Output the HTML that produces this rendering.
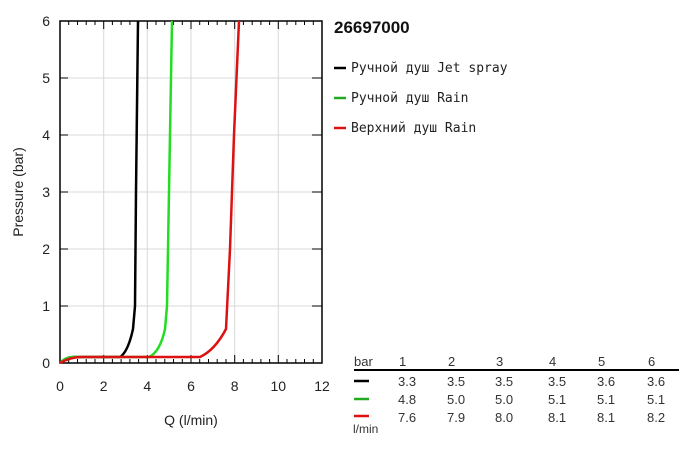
<!DOCTYPE html>
<html><head><meta charset="utf-8"><style>
body{margin:0;background:#fff;width:696px;height:450px;overflow:hidden;font-family:"Liberation Sans",sans-serif}
</style></head><body>
<svg width="696" height="450" xmlns="http://www.w3.org/2000/svg" font-family="Liberation Sans, sans-serif">
<g stroke="#d8d8d8" stroke-width="1">
<line x1="103.7" y1="21" x2="103.7" y2="363"/><line x1="147.3" y1="21" x2="147.3" y2="363"/><line x1="191" y1="21" x2="191" y2="363"/><line x1="234.7" y1="21" x2="234.7" y2="363"/><line x1="278.3" y1="21" x2="278.3" y2="363"/>
<line x1="60" y1="78" x2="322" y2="78"/><line x1="60" y1="135" x2="322" y2="135"/><line x1="60" y1="192" x2="322" y2="192"/><line x1="60" y1="249" x2="322" y2="249"/><line x1="60" y1="306" x2="322" y2="306"/>
</g>
<g stroke="#000" stroke-width="1">
<path d="M68.7 21v4M77.5 21v4M86.2 21v4M95 21v4M112.4 21v4M121.1 21v4M129.9 21v4M138.6 21v4M156 21v4M164.8 21v4M173.5 21v4M182.3 21v4M199.7 21v4M208.5 21v4M217.2 21v4M226 21v4M243.4 21v4M252.2 21v4M260.9 21v4M269.6 21v4M287 21v4M295.8 21v4M304.5 21v4M313.3 21v4"/>
<path d="M68.7 363v-4M77.5 363v-4M86.2 363v-4M95 363v-4M112.4 363v-4M121.1 363v-4M129.9 363v-4M138.6 363v-4M156 363v-4M164.8 363v-4M173.5 363v-4M182.3 363v-4M199.7 363v-4M208.5 363v-4M217.2 363v-4M226 363v-4M243.4 363v-4M252.2 363v-4M260.9 363v-4M269.6 363v-4M287 363v-4M295.8 363v-4M304.5 363v-4M313.3 363v-4"/>
<path d="M103.7 21v8M147.3 21v8M191 21v8M234.7 21v8M278.3 21v8M103.7 363v-8M147.3 363v-8M191 363v-8M234.7 363v-8M278.3 363v-8"/>
<path d="M60 78h8M60 135h8M60 192h8M60 249h8M60 306h8M322 78h-10M322 135h-10M322 192h-10M322 249h-10M322 306h-10"/>
</g>
<rect x="60" y="21" width="262" height="342" fill="none" stroke="#000" stroke-width="1.5"/>
<g fill="none" stroke-width="2.5" stroke-linejoin="round">
<path stroke="#000" d="M60 363 Q66 357 73 357 L120 357 Q128 352 133 329 L135 306 L136 192 L138 21"/>
<path stroke="#22dd22" d="M60 363 Q66 357 73 357 L149 357 Q160 352 165 329 L167 306 L169 192 L172 21"/>
<path stroke="#dd1111" d="M60 363 Q70 357 82 357 L200 357 Q215 350 226 329 L230 249 L234 135 L239 21"/>
</g>
<g font-size="14" fill="#222" text-anchor="end">
<text x="50" y="26">6</text><text x="50" y="83">5</text><text x="50" y="140">4</text><text x="50" y="197">3</text><text x="50" y="254">2</text><text x="50" y="311">1</text><text x="50" y="368">0</text>
</g>
<g font-size="14" fill="#222" text-anchor="middle">
<text x="60" y="391">0</text><text x="103.7" y="391">2</text><text x="147.3" y="391">4</text><text x="191" y="391">6</text><text x="234.7" y="391">8</text><text x="278.3" y="391">10</text><text x="322" y="391">12</text>
<text x="191" y="425">Q (l/min)</text>
<text transform="translate(23 192) rotate(-90)">Pressure (bar)</text>
</g>
<text x="334" y="33" font-size="17" font-weight="bold" fill="#111">26697000</text>
<g font-family="DejaVu Sans Mono, monospace" font-size="13" fill="#222">
<line x1="334" y1="68" x2="346" y2="68" stroke="#000" stroke-width="2.5"/><text x="351" y="72">Ручной душ Jet spray</text>
<line x1="334" y1="98" x2="346" y2="98" stroke="#22aa22" stroke-width="2.5"/><text x="351" y="102">Ручной душ Rain</text>
<line x1="334" y1="128" x2="346" y2="128" stroke="#dd1111" stroke-width="2.5"/><text x="351" y="132">Верхний душ Rain</text>
</g>
<g font-size="13" fill="#333">
<text x="354" y="366">bar</text>
<text x="399" y="366">1</text><text x="448" y="366">2</text><text x="496" y="366">3</text><text x="549" y="366">4</text><text x="598" y="366">5</text><text x="648" y="366">6</text>
<line x1="354" y1="370" x2="679" y2="370" stroke="#000" stroke-width="2"/>
<line x1="354" y1="381" x2="369" y2="381" stroke="#000" stroke-width="2.5"/>
<line x1="354" y1="399" x2="369" y2="399" stroke="#22aa22" stroke-width="2.5"/>
<line x1="354" y1="416" x2="369" y2="416" stroke="#dd1111" stroke-width="2.5"/>
<text x="398" y="386">3.3</text><text x="447" y="386">3.5</text><text x="495" y="386">3.5</text><text x="548" y="386">3.5</text><text x="597" y="386">3.6</text><text x="647" y="386">3.6</text>
<text x="398" y="404">4.8</text><text x="447" y="404">5.0</text><text x="495" y="404">5.0</text><text x="548" y="404">5.1</text><text x="597" y="404">5.1</text><text x="647" y="404">5.1</text>
<text x="398" y="422">7.6</text><text x="447" y="422">7.9</text><text x="495" y="422">8.0</text><text x="548" y="422">8.1</text><text x="597" y="422">8.1</text><text x="647" y="422">8.2</text>
<text x="353" y="433" font-size="12">l/min</text>
</g>
</svg>
</body></html>
